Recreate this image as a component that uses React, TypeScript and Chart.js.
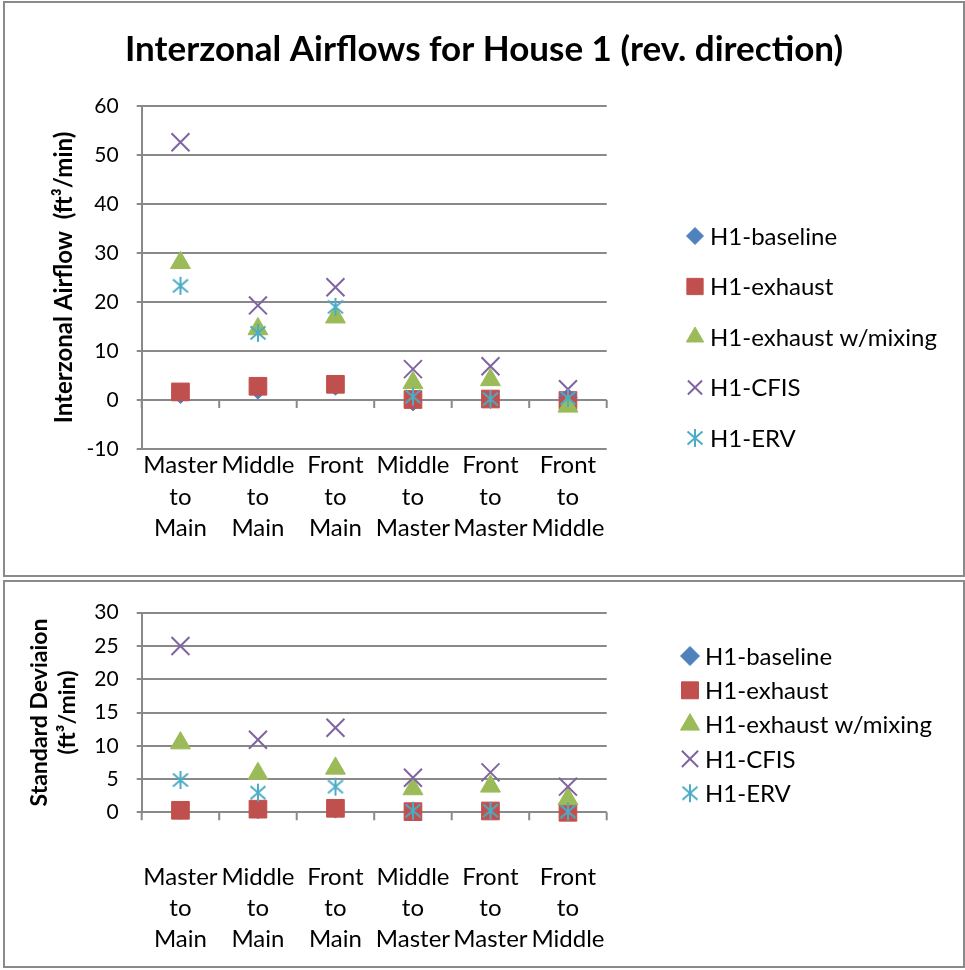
import React, { useEffect, useRef } from 'react';
import { Chart, registerables } from 'chart.js';
import { drawPoint } from 'chart.js/helpers';

Chart.register(...registerables);

const FONT = 'Lato, "Open Sans", sans-serif';
Chart.defaults.font.family = FONT;

// ---------- data ----------
const categories = [
  ['Master', 'to', 'Main'],
  ['Middle', 'to', 'Main'],
  ['Front', 'to', 'Main'],
  ['Middle', 'to', 'Master'],
  ['Front', 'to', 'Master'],
  ['Front', 'to', 'Middle'],
];
const seriesNames = ['H1-baseline', 'H1-exhaust', 'H1-exhaust w/mixing', 'H1-CFIS', 'H1-ERV'];

// Interzonal airflow (ft3/min)
const flowBaseline = [1.0, 1.9, 2.7, -0.5, 0.0, -0.2];
const flowExhaust = [1.65, 2.8, 3.2, 0.1, 0.2, -0.1];
const flowMixing = [28.0, 14.5, 16.9, 3.5, 4.1, -1.3];
const flowCFIS = [52.6, 19.3, 23.0, 6.3, 6.9, 2.2];
const flowERV = [23.3, 13.7, 19.0, 0.7, 0.2, 0.4];

// Standard deviation (ft3/min)
const sdBaseline = [0.2, 0.3, 0.4, 0.05, 0.15, 0.0];
const sdExhaust = [0.3, 0.47, 0.6, 0.1, 0.2, 0.0];
const sdMixing = [10.4, 5.8, 6.6, 3.5, 3.9, 2.0];
const sdCFIS = [25.0, 10.9, 12.7, 5.2, 6.0, 3.85];
const sdERV = [4.85, 2.95, 3.85, 0.25, 0.25, 0.1];

const flowAxis = { min: -10, max: 60, step: 10 };
const sdAxis = { min: 0, max: 30, step: 5 };

const chartTitle = 'Interzonal Airflows for House 1 (rev. direction)';
const flowAxisTitle = 'Interzonal Airflow  (ft\u00b3/min)';
const sdAxisTitle = ['Standard Deviaion', '(ft\u00b3/min)'];

// ---------- styles ----------
const COLORS = ['#4F81BD', '#C0504D', '#9BBB59', '#8064A2', '#4BACC6'];
const GRID = '#898989';

function makeStar(): HTMLCanvasElement {
  const c = document.createElement('canvas');
  c.width = 20;
  c.height = 22;
  const ctx = c.getContext('2d')!;
  ctx.strokeStyle = COLORS[4];
  ctx.lineWidth = 2;
  ctx.beginPath();
  ctx.moveTo(10, 2);
  ctx.lineTo(10, 20);
  ctx.moveTo(2.5, 4.5);
  ctx.lineTo(17.5, 17.5);
  ctx.moveTo(2.5, 17.5);
  ctx.lineTo(17.5, 4.5);
  ctx.stroke();
  return c;
}

function buildDatasets(series: number[][], star: HTMLCanvasElement) {
  const styles: any[] = ['rectRot', 'rect', 'triangle', 'crossRot', star];
  const radii = [8.5, 12.5, 11.5, 12.7, 10];
  return series.map((data, i) => ({
    label: seriesNames[i],
    data,
    showLine: false,
    clip: false,
    order: 5 - i,
    pointStyle: styles[i],
    pointRadius: radii[i],
    pointHoverRadius: radii[i],
    backgroundColor: COLORS[i],
    borderColor: COLORS[i],
    pointBorderWidth: i === 3 ? 2 : 1,
  }));
}

const zeroTicksPlugin = {
  id: 'zeroTicks',
  beforeDatasetsDraw(chart: any) {
    const xs = chart.scales.x;
    const ys = chart.scales.y;
    const y0 = ys.getPixelForValue(0);
    const n = chart.data.labels.length;
    const ctx = chart.ctx;
    ctx.save();
    ctx.strokeStyle = GRID;
    ctx.lineWidth = 2;
    ctx.beginPath();
    for (let i = 0; i <= n; i++) {
      const px = xs.left + (xs.width * i) / n;
      ctx.moveTo(px, y0);
      ctx.lineTo(px, y0 + 8);
    }
    ctx.stroke();
    ctx.restore();
  },
};

function titlePlugin(text: string | null) {
  return {
    id: 'centerTitle',
    afterDraw(chart: any) {
      if (!text) return;
      const ctx = chart.ctx;
      ctx.save();
      ctx.fillStyle = '#000';
      ctx.font = `bold 35px ${FONT}`;
      ctx.textAlign = 'center';
      ctx.textBaseline = 'middle';
      ctx.fillText(text, 479, 47);
      ctx.restore();
    },
  };
}

function legendPlugin(opts: { x: number; textX: number; y: number; gap: number; size: number; radii: number[] }) {
  return {
    id: 'customLegend',
    afterDraw(chart: any) {
      const ctx = chart.ctx;
      ctx.save();
      chart.data.datasets.forEach((ds: any, i: number) => {
        const cy = opts.y + i * opts.gap;
        ctx.fillStyle = ds.backgroundColor;
        ctx.strokeStyle = ds.borderColor;
        ctx.lineWidth = ds.pointBorderWidth;
        drawPoint(ctx, { pointStyle: ds.pointStyle, radius: opts.radii[i], borderWidth: ds.pointBorderWidth, rotation: 0 } as any, opts.x, cy);
        ctx.fillStyle = '#000';
        ctx.font = `${opts.size}px ${FONT}`;
        ctx.textBaseline = 'middle';
        ctx.textAlign = 'left';
        ctx.fillText(ds.label, opts.textX, cy + 1);
      });
      ctx.restore();
    },
  };
}

interface PanelProps {
  top: number;
  height: number;
  series: number[][];
  axis: { min: number; max: number; step: number };
  yTitle: string | string[];
  yTitleSize: number;
  yTitlePad: number;
  title: string | null;
  padTop: number;
  xHeight: number;
  xPad: number;
  legend: { x: number; textX: number; y: number; gap: number; size: number; radii: number[] };
}

function Panel(p: PanelProps) {
  const ref = useRef<HTMLCanvasElement>(null);
  useEffect(() => {
    const star = makeStar();
    const chart = new Chart(ref.current!, {
      type: 'line',
      data: { labels: categories as any, datasets: buildDatasets(p.series, star) as any },
      plugins: [zeroTicksPlugin, legendPlugin(p.legend), titlePlugin(p.title)],
      options: {
        responsive: false,
        animation: false,
        events: [],
        layout: { padding: { left: 0, right: 356.3, top: p.padTop, bottom: 0 } },
        plugins: {
          legend: { display: false },
          tooltip: { enabled: false },
          title: { display: false },
        },
        scales: {
          x: {
            type: 'category',
            offset: true,
            grid: { display: false },
            border: { display: false },
            ticks: {
              color: '#000',
              font: { size: 24, lineHeight: 1.3 },
              padding: p.xPad,
              maxRotation: 0,
              autoSkip: false,
            },
            afterFit: (s: any) => {
              s.height = p.xHeight;
            },
          },
          y: {
            min: p.axis.min,
            max: p.axis.max,
            ticks: { stepSize: p.axis.step, color: '#000', font: { size: 21 }, padding: 18 },
            grid: { color: GRID, lineWidth: 2, tickLength: 5, drawTicks: true },
            border: { display: true, color: GRID, width: 2 },
            title: {
              display: true,
              text: p.yTitle,
              color: '#000',
              font: { size: p.yTitleSize, weight: 'bold', lineHeight: 1.2 },
              padding: { top: p.yTitlePad, bottom: 0 },
            },
            afterFit: (s: any) => {
              s.width = 136.7;
            },
          },
        },
      } as any,
    });
    return () => chart.destroy();
  }, []);
  return (
    <div
      style={{
        position: 'absolute',
        left: 3,
        top: p.top,
        width: 958,
        height: p.height,
        border: '2px solid #8a8a8a',
        background: '#fff',
      }}
    >
      <canvas ref={ref} width={958} height={p.height} style={{ display: 'block' }} />
    </div>
  );
}

export default function App() {
  return (
    <div>
      <Panel
        top={1}
        height={572}
        series={[flowBaseline, flowExhaust, flowMixing, flowCFIS, flowERV]}
        axis={flowAxis}
        yTitle={flowAxisTitle}
        yTitleSize={24}
        yTitlePad={44.6}
        title={chartTitle}
        padTop={103}
        xHeight={126}
        xPad={-7}
        legend={{ x: 690, textX: 705, y: 233, gap: 50.5, size: 24, radii: [8.5, 11.5, 10, 10, 10] }}
      />
      <Panel
        top={580}
        height={384}
        series={[sdBaseline, sdExhaust, sdMixing, sdCFIS, sdERV]}
        axis={sdAxis}
        yTitle={sdAxisTitle}
        yTitleSize={23}
        yTitlePad={21.2}
        title={null}
        padTop={30.7}
        xHeight={153.7}
        xPad={41}
        legend={{ x: 685, textX: 700, y: 74, gap: 34.3, size: 24, radii: [9.5, 12, 11, 11.5, 10] }}
      />
    </div>
  );
}
